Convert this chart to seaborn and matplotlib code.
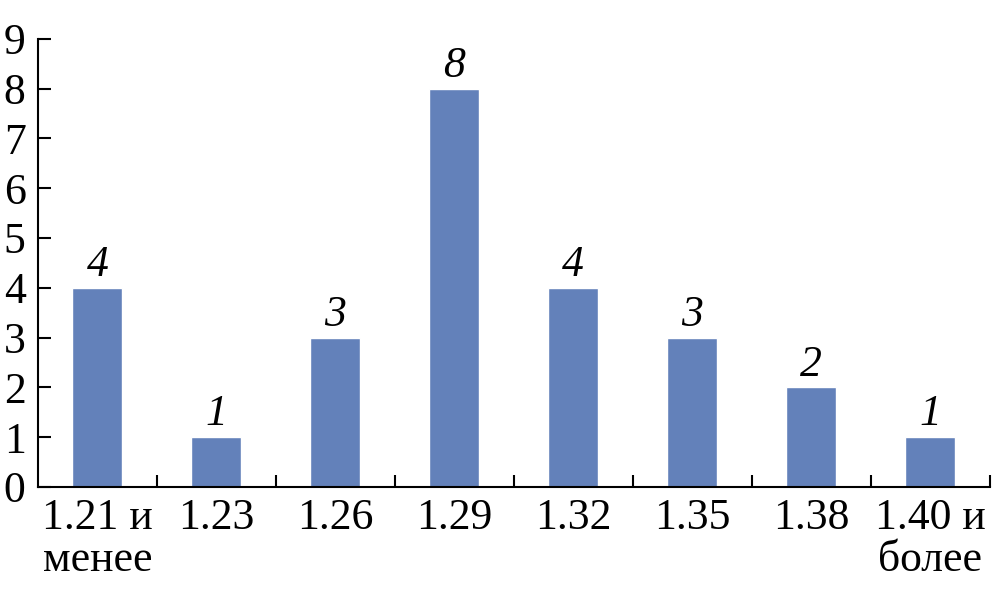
import matplotlib
matplotlib.use('Agg')
import matplotlib.pyplot as plt
import seaborn as sns

categories = ['1.21 и\nменее', '1.23', '1.26', '1.29', '1.32', '1.35', '1.38', '1.40 и\nболее']
counts = [4, 1, 3, 8, 4, 3, 2, 1]
y_ticks = list(range(0, 10))

sns.set_style('white')
plt.rcParams['font.family'] = ['Liberation Serif', 'DejaVu Serif']
plt.rcParams['text.color'] = 'black'
plt.rcParams['xtick.color'] = 'black'
plt.rcParams['ytick.color'] = 'black'

fig = plt.figure(figsize=(10.08, 5.96), dpi=100)
ax = fig.add_axes([0.0377, 0.183, 0.944, 0.752])

sns.barplot(x=categories, y=counts, color='#6381BA', width=0.42, saturation=1, ax=ax)
ax.bar_label(ax.containers[0], fontsize=31.5, fontstyle='italic', padding=2, color='black')

ax.set_ylim(0, 9)
ax.set_xlim(-0.5, len(categories) - 0.5)
ax.set_yticks(y_ticks)
ax.set_yticklabels([str(t) for t in y_ticks], fontsize=31.5)
ax.tick_params(axis='y', direction='in', length=9, width=1.5, pad=9, left=True)
ax.set_xticks(range(len(categories)))
ax.set_xticklabels(categories, fontsize=31.5, linespacing=1.05)
ax.tick_params(axis='x', which='major', length=0, pad=8)
ax.set_xticks([i + 0.5 for i in range(len(categories))], minor=True)
ax.tick_params(axis='x', which='minor', direction='in', length=9, width=1.5, bottom=True)

for s in ['top', 'right']:
    ax.spines[s].set_visible(False)
for s in ['left', 'bottom']:
    ax.spines[s].set_linewidth(1.5)
    ax.spines[s].set_color('black')
ax.set_xlabel('')
ax.set_ylabel('')

fig.savefig('out.png', dpi=100)
